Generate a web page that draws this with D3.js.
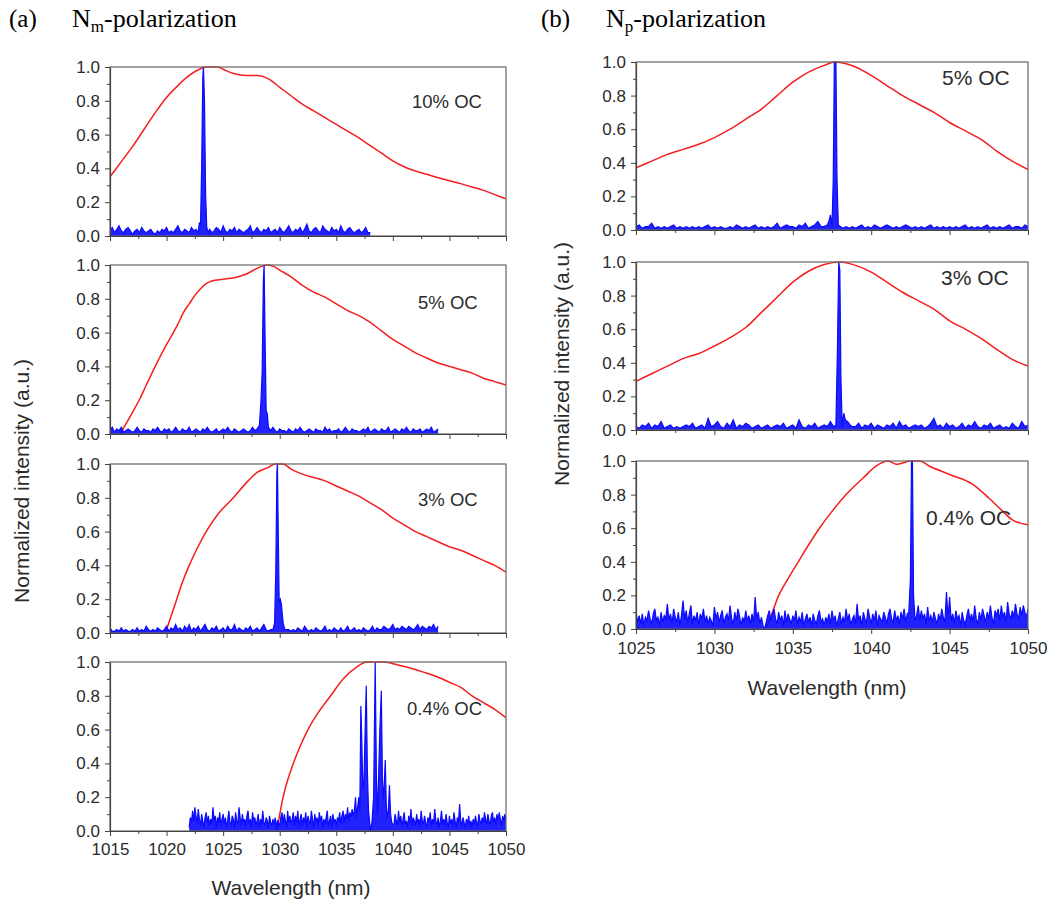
<!DOCTYPE html>
<html><head><meta charset="utf-8">
<script src="https://cdn.jsdelivr.net/npm/d3@7"></script>
<style>body{margin:0;background:#fff} svg{display:block}</style>
</head><body><svg id="c" width="1054" height="905"></svg>
<script>
// ---------- DATA ----------
const yTicks = [0.0, 0.2, 0.4, 0.6, 0.8, 1.0];
const yMinor = [0.1, 0.3, 0.5, 0.7, 0.9];
const xTicksA = [1015, 1020, 1025, 1030, 1035, 1040, 1045, 1050];
const xMinorA = [1017.5, 1022.5, 1027.5, 1032.5, 1037.5, 1042.5, 1047.5];
const xTicksB = [1025, 1030, 1035, 1040, 1045, 1050];
const xMinorB = [1027.5, 1032.5, 1037.5, 1042.5, 1047.5];
const labelsA = ["10% OC", "5% OC", "3% OC", "0.4% OC"];
const labelsB = ["5% OC", "3% OC", "0.4% OC"];

// red: broadband (free-running) spectra [wavelength nm, normalized intensity]
const redA1 = [[1015,0.35],[1016,0.44],[1017,0.53],[1018,0.63],[1019,0.73],[1020,0.82],[1021,0.89],[1022,0.95],[1023,0.99],[1023.5,1.0],[1024.5,1.0],[1025.2,0.98],[1026,0.96],[1027,0.95],[1028,0.95],[1029,0.93],[1030,0.88],[1031,0.83],[1032,0.78],[1033,0.74],[1034,0.70],[1035,0.66],[1036,0.62],[1037,0.58],[1038,0.535],[1039,0.49],[1040,0.445],[1041,0.41],[1042,0.385],[1043,0.365],[1044,0.345],[1045,0.327],[1046,0.31],[1047,0.29],[1048,0.27],[1049,0.245],[1050,0.22]];
const redA2 = [[1015.9,0.0],[1016.5,0.07],[1017,0.13],[1017.65,0.21],[1018,0.26],[1019,0.40],[1020,0.53],[1020.6,0.6],[1021,0.65],[1021.5,0.72],[1022,0.77],[1022.5,0.82],[1023,0.86],[1023.5,0.89],[1024,0.905],[1025,0.915],[1026,0.925],[1027,0.945],[1028,0.98],[1028.5,0.995],[1029,1.0],[1029.5,0.99],[1030,0.97],[1031,0.93],[1032,0.88],[1033,0.84],[1034,0.81],[1035,0.77],[1036,0.73],[1037,0.70],[1038,0.66],[1039,0.61],[1040,0.56],[1041,0.52],[1042,0.48],[1043,0.45],[1044,0.42],[1045,0.40],[1046,0.38],[1047,0.36],[1048,0.33],[1049,0.31],[1050,0.29]];
const redA3 = [[1019.9,0.0],[1020.4,0.1],[1020.9,0.2],[1021.4,0.3],[1022,0.4],[1022.7,0.5],[1023.5,0.6],[1024.5,0.7],[1025.9,0.8],[1027.2,0.9],[1028,0.95],[1029,0.98],[1029.6,1.0],[1030.3,1.0],[1031,0.97],[1032,0.94],[1033,0.92],[1034,0.9],[1035,0.87],[1036,0.84],[1037,0.81],[1038,0.77],[1039,0.73],[1040,0.68],[1041,0.64],[1042,0.60],[1043,0.57],[1044,0.54],[1045,0.51],[1046,0.49],[1047,0.46],[1048,0.43],[1049,0.40],[1050,0.36]];
const redA4 = [[1029.75,0.0],[1030.3,0.2],[1030.7,0.3],[1031.2,0.4],[1031.8,0.5],[1032.5,0.6],[1033.4,0.7],[1034.5,0.8],[1035.6,0.9],[1036.8,0.97],[1037.7,1.0],[1039.2,1.0],[1040,0.99],[1041.2,0.97],[1042.7,0.94],[1044,0.91],[1045,0.88],[1046,0.85],[1047,0.8],[1048,0.76],[1049,0.72],[1050,0.67]];
const redB1 = [[1025,0.37],[1026,0.41],[1027,0.45],[1028,0.48],[1029,0.51],[1030,0.55],[1031,0.60],[1032,0.66],[1033,0.72],[1034,0.80],[1035,0.88],[1036,0.94],[1037,0.98],[1037.7,1.0],[1038.4,0.99],[1039,0.97],[1040,0.92],[1041,0.86],[1042,0.80],[1043,0.75],[1044,0.70],[1045,0.64],[1046,0.59],[1047,0.54],[1048,0.47],[1049,0.41],[1050,0.36]];
const redB2 = [[1025,0.29],[1026,0.335],[1027,0.38],[1028,0.425],[1029,0.455],[1030,0.50],[1031,0.55],[1032,0.61],[1033,0.70],[1034,0.79],[1035,0.88],[1036,0.945],[1037,0.985],[1038,1.0],[1039,0.98],[1040,0.94],[1041,0.88],[1042,0.82],[1043,0.77],[1044,0.72],[1045,0.65],[1046,0.60],[1047,0.545],[1048,0.48],[1049,0.42],[1050,0.38]];
const redB3 = [[1033.3,0.0],[1033.7,0.1],[1034.1,0.2],[1034.7,0.3],[1035.35,0.4],[1036,0.5],[1036.7,0.6],[1037.5,0.7],[1038.4,0.8],[1039.5,0.9],[1040.3,0.97],[1041.1,1.0],[1041.6,0.98],[1042.5,1.0],[1043.1,1.0],[1043.7,0.97],[1045,0.92],[1046.5,0.86],[1047.5,0.78],[1048.4,0.70],[1049,0.65],[1049.5,0.63],[1050,0.62]];

// blue: laser spectra. Background samples in hundredths, with start and step (nm)
const noiseA1Start = 1015, noiseA1Step = 0.2;
const noiseA1 = [3,5,2,4,6,3,2,4,5,3, 1,3,4,2,5,3,2,3,4,2, 1,3,2,4,3,5,2,3,2,4, 6,3,2,4,3,2,5,3,4,2, 3,5,2,3,4,2,3,5,4,2, 6,3,2,4,3,5,2,4,3,2, 3,4,6,2,3,5,3,2,4,3, 5,2,3,4,2,5,3,2,4,6, 3,2,4,3,5,2,4,7,3,2, 4,5,3,2,6,4,3,2,5,3, 4,2,6,3,2,4,5,3,2,3, 4,2,3,5,2,2];
const peakA1 = [[1022.8,0.02],[1022.9,0.08],[1023.0,0.06],[1023.1,0.4],[1023.2,0.93],[1023.26,1.0],[1023.35,0.8],[1023.45,0.25],[1023.55,0.05],[1023.7,0.02]];

const noiseA2Start = 1015, noiseA2Step = 0.2;
const noiseA2 = [2,4,1,3,2,4,1,2,3,2, 1,2,4,2,1,3,2,2,1,3, 2,4,2,1,3,2,3,1,2,4, 2,1,3,2,2,4,1,2,3,2, 1,3,2,4,2,1,2,3,1,2, 3,2,4,2,1,3,2,1,2,3, 2,1,2,4,2,3,1,2,2,3, 1,2,4,2,1,3,2,2,1,3, 2,1,3,2,4,2,1,2,3,2, 1,3,2,2,1,4,2,3,1,2, 2,3,1,2,4,2,1,3,2,2, 1,2,3,2,4,1,2,3,2,1, 3,2,2,4,1,2,3,2,1,3, 2,4,2,1,3,2,2,3,1,2, 3,2,4,1,2,3];
const peakA2 = [[1028.0,0.03],[1028.2,0.05],[1028.35,0.2],[1028.45,0.37],[1028.55,0.9],[1028.62,1.0],[1028.7,0.6],[1028.8,0.14],[1028.9,0.12],[1029.0,0.04],[1029.2,0.02]];

const noiseA3Start = 1015, noiseA3Step = 0.2;
const noiseA3 = [3,1,1,2,1,3,1,2,1,1, 2,1,3,1,2,1,4,2,1,2, 1,3,2,1,2,4,1,3,2,5, 2,3,1,4,2,5,1,3,2,4, 1,3,5,2,1,3,2,4,1,2, 3,1,4,2,2,5,1,3,2,1, 3,2,4,1,2,3,1,3,5,2, 1,2,3,1,2,4,2,1,3,2, 1,2,1,3,2,1,4,2,1,2, 1,3,2,1,2,4,1,2,1,3, 2,1,3,1,2,4,1,2,3,1, 2,1,3,2,1,2,4,1,3,2, 2,4,3,2,3,5,2,3,2,4, 3,2,4,3,2,3,5,2,4,3, 2,4,3,5,2,4];
const peakA3 = [[1029.4,0.02],[1029.55,0.06],[1029.65,0.35],[1029.75,0.95],[1029.8,1.0],[1029.87,0.6],[1029.95,0.18],[1030.05,0.2],[1030.15,0.17],[1030.3,0.06],[1030.45,0.02],[1030.6,0.02]];

const noiseA4Start = 1022, noiseA4Step = 0.1;
const noiseA4 = [2,8,5,12,6,14,9,4,13,7, 3,10,6,2,8,11,5,9,3,7, 4,14,6,9,2,8,5,11,3,7, 10,4,8,2,6,12,5,3,9,7, 2,11,6,4,14,8,3,10,5,7, 3,9,12,4,7,2,11,6,8,3, 6,10,2,7,4,12,5,3,8,6, 2,9,5,3,7,4,8,2,6,5, 3,8,11,4,10,6,2,12,5,9, 4,7,11,3,9,5,12,2,7,10, 3,8,5,11,2,9,6,4,12,7, 2,10,5,8,3,11,6,9,2,7, 4,8,12,3,6,9,2,10,5,7, 3,8,6,11,4,9,12,5,10,7, 14,6,11,8,13,9,12,20,15,9, 5,5,5,5,5,5,5,5,5,5, 5,5,5,5,5,5,5,5,5,5, 5,5,5,5,5,5,5,5,5,5, 8,4,10,6,3,12,5,9,2,7, 11,4,6,2,9,5,13,3,8,6, 3,10,5,7,2,12,6,4,9,5, 2,8,5,11,3,7,4,13,6,3, 8,2,6,12,4,7,3,10,5,2, 9,4,7,3,11,6,2,8,5,16, 6,3,8,5,2,7,4,9,3,6, 2,7,4,9,5,3,10,6,4,8, 5,11,7,4,10,6,3,9,11,5, 8,4,10,6,11,7,3,9,6,10, 5];
const peakA4 = [[1036.8,0.08],[1036.9,0.15],[1037.0,0.2],[1037.08,0.12],[1037.17,0.74],[1037.25,0.55],[1037.35,0.25],[1037.45,0.3],[1037.55,0.6],[1037.65,0.86],[1037.75,0.35],[1037.85,0.12],[1037.95,0.05],[1038.05,0.0],[1038.15,0.05],[1038.3,0.2],[1038.44,1.0],[1038.55,0.3],[1038.65,0.1],[1038.75,0.35],[1038.85,0.6],[1038.98,0.83],[1039.08,0.3],[1039.18,0.18],[1039.33,0.42],[1039.42,0.15],[1039.5,0.08],[1039.6,0.12],[1039.7,0.27],[1039.8,0.1],[1039.9,0.05],[1040.0,0.04]];

const noiseB1Start = 1025, noiseB1Step = 0.2;
const noiseB1 = [2,3,1,2,2,4,1,2,1,2, 1,2,3,1,2,1,2,1,2,1, 2,1,2,3,1,2,1,2,1,1, 2,1,3,2,1,2,1,2,3,1, 2,1,2,1,2,4,1,2,3,2, 2,1,3,2,4,1,2,3,5,2, 2,1,2,3,2,2,3,2,1,2, 1,2,3,1,2,1,3,2,1,2, 3,2,1,2,1,2,3,2,1,2, 1,2,1,2,3,1,2,1,2,1, 2,1,2,1,2,3,1,2,1,2, 1,2,3,1,2,1,2,1,2,3, 1,2,2,1,3,2];
const peakB1 = [[1037.2,0.03],[1037.3,0.05],[1037.4,0.09],[1037.5,0.02],[1037.58,0.3],[1037.65,1.0],[1037.75,1.0],[1037.82,0.3],[1037.9,0.03],[1038.05,0.02],[1038.2,0.01]];

const noiseB2Start = 1025, noiseB2Step = 0.2;
const noiseB2 = [2,1,3,2,4,1,3,2,5,1, 2,3,1,2,1,2,3,2,4,1, 2,3,1,7,2,3,5,2,1,4, 2,6,1,3,2,4,3,1,2,3, 1,2,3,1,2,3,2,4,1,2, 3,1,6,2,1,3,2,4,1,2, 3,2,5,1,2,4,2,3,1,3, 2,4,1,3,2,4,1,3,2,1, 3,2,4,1,5,2,3,1,2,3, 2,3,1,2,4,7,2,3,1,4, 2,3,1,2,4,1,3,2,5,2, 1,3,2,4,1,2,3,1,2,1, 4,2,1,5,2,3];
const peakB2 = [[1037.6,0.02],[1037.75,0.03],[1037.85,0.5],[1037.93,1.0],[1038.0,0.95],[1038.07,0.3],[1038.15,0.02],[1038.25,0.1],[1038.35,0.06],[1038.5,0.05],[1038.65,0.03],[1038.8,0.02]];

const noiseB3Start = 1025, noiseB3Step = 0.1;
const noiseB3 = [10,4,8,3,9,2,7,5,11,6, 3,9,12,5,7,2,10,4,8,6, 15,5,9,3,12,7,4,10,2,8, 17,6,11,4,9,14,3,8,5,10, 2,9,6,12,4,8,3,7,5,2, 13,6,10,4,8,11,3,7,9,5, 14,6,3,10,5,12,8,2,7,4, 11,5,8,3,9,4,19,6,10,3, 7,2,0,4,8,11,5,9,12,6, 3,10,5,8,2,11,4,9,6,3, 8,5,11,3,7,4,10,2,6,9, 4,7,2,9,5,3,8,11,4,6, 2,7,4,9,3,11,5,8,2,6, 10,3,7,4,12,5,9,2,6,8, 3,15,5,8,2,10,6,4,12,7, 3,9,5,11,2,8,6,4,10,7, 3,9,12,6,4,11,5,8,3,10, 6,12,4,9,5,5,5,5,5,8, 14,5,11,6,9,3,13,5,8,4, 10,6,3,9,5,12,7,4,22,6, 19,5,9,3,11,6,8,2,10,5, 3,8,12,5,9,4,14,6,3,10, 5,12,8,4,10,6,14,7,3,11, 8,12,5,14,7,10,4,16,9,6, 11,7,15,9,6,13,8,14,10,7, 12];
const peakB3 = [[1042.4,0.1],[1042.5,0.3],[1042.57,1.0],[1042.63,1.0],[1042.7,0.2],[1042.8,0.05]];

// ---------- DRAWING ----------
const svg = d3.select("#c");
const TXT = "#2b2b2b";
const SANS = "Arial, 'Liberation Sans', Helvetica, sans-serif";
const SERIF = "'Times New Roman', 'Liberation Serif', serif";
const BLUE = "#0a0aff";
let clipId = 0;

function blueSeries(noise, start, step, peak) {
  const lo = peak[0][0], hi = peak[peak.length - 1][0];
  const base = noise.map((v, i) => [start + i * step, v / 100])
    .filter(d => d[0] < lo - 1e-6 || d[0] > hi + 1e-6);
  return base.concat(peak).sort((a, b) => a[0] - b[0]);
}

function drawPlot(c) {
  const x = d3.scaleLinear().domain(c.domain).range([c.x0, c.x1]);
  const y = d3.scaleLinear().domain([0, 1]).range([c.y1, c.y0]);
  const g = svg.append("g");
  const id = "clip" + (clipId++);
  svg.append("clipPath").attr("id", id).append("rect")
    .attr("x", c.x0).attr("y", c.y0 - 1).attr("width", c.x1 - c.x0).attr("height", c.y1 - c.y0 + 1);

  const plot = g.append("g").attr("clip-path", `url(#${id})`);
  plot.append("path")
    .attr("d", d3.line().x(d => x(d[0])).y(d => y(d[1])).curve(d3.curveMonotoneX)(c.red))
    .attr("fill", "none").attr("stroke", "#f51d1d").attr("stroke-width", 1.5);
  // blue spectrum: dense trace drawn as filled trace from baseline plus outline
  plot.append("path")
    .attr("d", d3.area().x(d => x(d[0])).y0(y(0)).y1(d => y(d[1]))(c.blue))
    .attr("fill", BLUE).attr("fill-opacity", 0.9).attr("stroke", "none");
  plot.append("path")
    .attr("d", d3.line().x(d => x(d[0])).y(d => y(d[1]))(c.blue))
    .attr("fill", "none").attr("stroke", BLUE).attr("stroke-width", 1.2);

  // frame
  g.append("rect").attr("x", c.x0).attr("y", c.y0).attr("width", c.x1 - c.x0).attr("height", c.y1 - c.y0)
    .attr("fill", "none").attr("stroke", "#666").attr("stroke-width", 1.2);

  // y axis
  g.append("g").attr("transform", `translate(${c.x0},0)`)
    .call(d3.axisLeft(y).tickValues(yTicks).tickFormat(d3.format(".1f")).tickSize(5).tickPadding(5).tickSizeOuter(0));
  g.append("g").attr("transform", `translate(${c.x0},0)`)
    .call(d3.axisLeft(y).tickValues(yMinor).tickFormat("").tickSize(3).tickSizeOuter(0))
    .select(".domain").remove();
  // x axis
  g.append("g").attr("transform", `translate(0,${c.y1})`)
    .call(d3.axisBottom(x).tickValues(c.xTicks).tickFormat(c.showX ? d3.format("d") : "").tickSize(5).tickPadding(c.xPad).tickSizeOuter(0));
  g.append("g").attr("transform", `translate(0,${c.y1})`)
    .call(d3.axisBottom(x).tickValues(c.xMinor).tickFormat("").tickSize(3).tickSizeOuter(0))
    .select(".domain").remove();

  g.selectAll(".domain").attr("stroke", "#444").attr("stroke-width", 1.2);
  g.selectAll(".tick line").attr("stroke", "#444").attr("stroke-width", 1);
  g.selectAll(".tick text").attr("fill", TXT).style("font-family", SANS).style("font-size", "17px");

  g.append("text").attr("x", c.labelX).attr("y", c.labelY).text(c.label)
    .attr("fill", TXT).style("font-family", SANS).style("font-size", c.labelSize + "px");
}

const A = { x0: 110, x1: 506, tops: [67, 265, 464, 662], h: 169 };
const redsA = [redA1, redA2, redA3, redA4];
const bluesA = [
  blueSeries(noiseA1, noiseA1Start, noiseA1Step, peakA1),
  blueSeries(noiseA2, noiseA2Start, noiseA2Step, peakA2),
  blueSeries(noiseA3, noiseA3Start, noiseA3Step, peakA3),
  blueSeries(noiseA4, noiseA4Start, noiseA4Step, peakA4)];
const labPosA = [[412, 108], [418, 309], [418, 506], [407, 715]];
redsA.forEach((r, i) => drawPlot({
  x0: A.x0, x1: A.x1, y0: A.tops[i], y1: A.tops[i] + A.h, domain: [1015, 1050],
  xTicks: xTicksA, xMinor: xMinorA, showX: i === 3, xPad: 7,
  red: r, blue: bluesA[i], label: labelsA[i], labelX: labPosA[i][0], labelY: labPosA[i][1], labelSize: 18.5
}));

const B = { x0: 636, x1: 1028, tops: [62, 262, 461], h: 168 };
const redsB = [redB1, redB2, redB3];
const bluesB = [
  blueSeries(noiseB1, noiseB1Start, noiseB1Step, peakB1),
  blueSeries(noiseB2, noiseB2Start, noiseB2Step, peakB2),
  blueSeries(noiseB3, noiseB3Start, noiseB3Step, peakB3)];
const labPosB = [[942, 85], [941, 285], [926, 525]];
redsB.forEach((r, i) => drawPlot({
  x0: B.x0, x1: B.x1, y0: B.tops[i], y1: B.tops[i] + B.h, domain: [1025, 1050],
  xTicks: xTicksB, xMinor: xMinorB, showX: i === 2, xPad: 8,
  red: r, blue: bluesB[i], label: labelsB[i], labelX: labPosB[i][0], labelY: labPosB[i][1], labelSize: 21
}));

// axis titles
function title(t, x, y, rot) {
  const el = svg.append("text").text(t).attr("text-anchor", "middle")
    .attr("fill", TXT).style("font-family", SANS).style("font-size", "21px");
  if (rot) el.attr("transform", `translate(${x},${y}) rotate(-90)`);
  else el.attr("x", x).attr("y", y);
}
title("Wavelength (nm)", 291, 895, false);
title("Wavelength (nm)", 827, 695, false);
title("Normalized intensity (a.u.)", 29, 481, true);
title("Normalized intensity (a.u.)", 569, 364, true);

// panel headings
function heading(letter, lx, nx, sub) {
  svg.append("text").attr("x", lx).attr("y", 27).text(letter)
    .attr("fill", "#000").style("font-family", SERIF).style("font-size", "25px");
  const t = svg.append("text").attr("x", nx).attr("y", 27).attr("fill", "#000")
    .style("font-family", SERIF).style("font-size", "26px");
  t.append("tspan").text("N");
  t.append("tspan").text(sub).attr("dy", 5).style("font-size", "17px");
  t.append("tspan").text("-polarization").attr("dy", -5);
}
heading("(a)", 9, 72, "m");
heading("(b)", 541, 606, "p");
</script>
</body></html>
